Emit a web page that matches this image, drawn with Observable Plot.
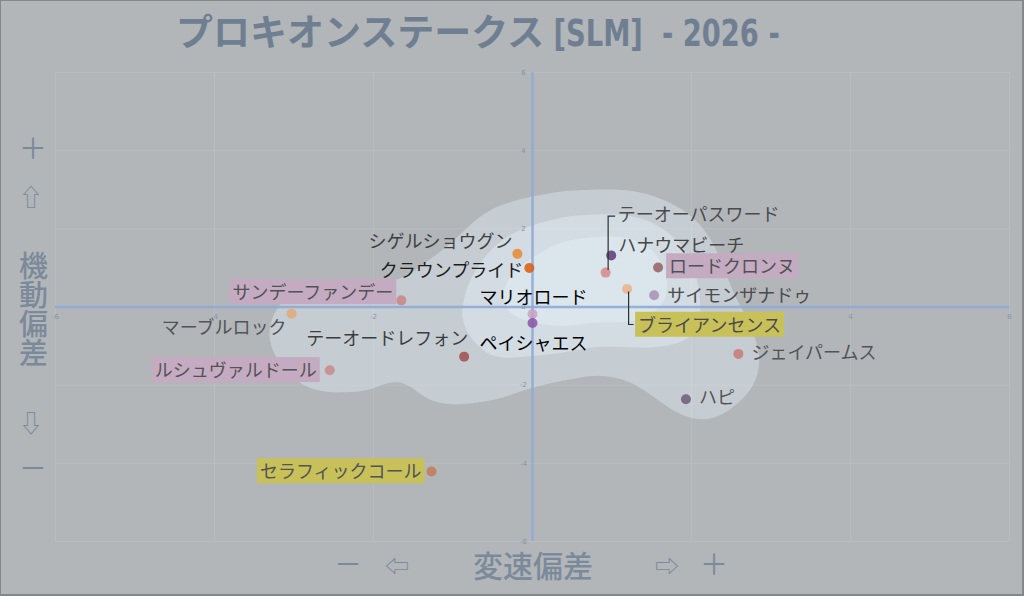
<!DOCTYPE html>
<html>
<head>
<meta charset="utf-8">
<script src="https://cdn.jsdelivr.net/npm/d3@7"></script>
<script src="https://cdn.jsdelivr.net/npm/@observablehq/plot@0.6"></script>
<style>
  html, body { margin: 0; padding: 0; background: #b2b6b9; }
  #wrap { position: relative; width: 1024px; height: 596px; overflow: hidden; background: #b2b6b9; }
  #wrap svg { position: absolute; left: 0; top: 0; }
  #frame { position: absolute; left: 0; top: 0; width: 1024px; height: 596px; box-sizing: border-box; border: 1px solid #85888b; border-right-width: 2px; border-bottom-width: 2px; pointer-events: none; }
  .ov { position: absolute; color: #7b8a9b; font-family: "Noto Sans CJK JP", "Noto Sans", sans-serif; transform: translate(-50%, -50%); white-space: nowrap; line-height: 1; }
  #title { position: absolute; left: 176px; top: 12px; color: #6f7f91; font-weight: 700; white-space: nowrap; line-height: 1; }
  #title .jp { font-family: "Noto Sans CJK JP", sans-serif; font-size: 37px; }
  #title .en { display: inline-block; font-family: "DejaVu Sans Condensed", "DejaVu Sans", sans-serif; font-size: 38px; transform: scaleX(0.8); transform-origin: 0 50%; }
  #vlabel { writing-mode: vertical-rl; text-orientation: upright; font-size: 29px; font-weight: 500; letter-spacing: 0; }
</style>
</head>
<body>
<div id="wrap"></div>
<script>
// ---- data ----
const horses = ["シゲルショウグン", "クラウンプライド", "マリオロード", "ペイシャエス", "テーオーパスワード",
  "ハナウマビーチ", "ロードクロンヌ", "サイモンザナドゥ", "ブライアンセンス", "ジェイパームス", "ハピ",
  "サンデーファンデー", "マーブルロック", "テーオードレフォン", "ルシュヴァルドール", "セラフィックコール"];
const speedDev = [-0.19, -0.04, 0.00, 0.00, 0.92, 0.99, 1.58, 1.53, 1.19, 2.59, 1.93, -1.65, -3.03, -0.86, -2.55, -1.27];
const mobilityDev = [1.36, 1.00, -0.18, -0.41, 0.88, 1.32, 1.01, 0.30, 0.46, -1.20, -2.36, 0.17, -0.17, -1.27, -1.62, -4.21];
const highlightKind = [null, null, null, null, null, null, "pink", null, "yellow", null, null, "pink", null, null, "pink", "yellow"];
const xTicks = [-6, -4, -2, 0, 2, 4, 6];
const yTicks = [-6, -4, -2, 0, 2, 4, 6];

// ---- styles (colours, label offsets in px) ----
const dotColors = ["#e88a32", "#dd5c0a", "#c9a2c6", "#8a55a6", "#d68a8c", "#5c3a78", "#946060", "#a891b3",
  "#eab088", "#c87a78", "#6e5a7c", "#c88482", "#e2a878", "#a04e50", "#c88888", "#c27a55"];
const labelStyle = [
  {anchor: "end", dx: -5, dy: -12, labelColor: "#3f4042"},
  {anchor: "end", dx: -6, dy: 3, labelColor: "#1c1c1c"},
  {anchor: "middle", dx: 1, dy: -16, labelColor: "#000000"},
  {anchor: "middle", dx: 1, dy: 21, labelColor: "#000000"},
  {anchor: "start", dx: 12, dy: -57, labelColor: "#4a4b4d", leader: "up"},
  {anchor: "start", dx: 7, dy: -9, labelColor: "#454648"},
  {anchor: "start", dx: 11, dy: 0, labelColor: "#505154"},
  {anchor: "start", dx: 13, dy: 1, labelColor: "#4a4b4d"},
  {anchor: "start", dx: 11, dy: 37, labelColor: "#4a4b4d", leader: "down"},
  {anchor: "start", dx: 13, dy: -1, labelColor: "#525356"},
  {anchor: "start", dx: 13, dy: -1, labelColor: "#525356"},
  {anchor: "end", dx: -8, dy: -7, labelColor: "#525356"},
  {anchor: "end", dx: -5, dy: 15, labelColor: "#525356"},
  {anchor: "end", dx: 4, dy: -17, labelColor: "#3c3d3f"},
  {anchor: "end", dx: -13, dy: 1, labelColor: "#525356"},
  {anchor: "end", dx: -10, dy: 1, labelColor: "#525356"}
];
const highlightFill = {pink: "#c5abc1", yellow: "#c8c15a"};

const points = horses.map((name, i) => ({
  name, x: speedDev[i], y: mobilityDev[i], color: dotColors[i], hl: highlightKind[i], ...labelStyle[i]
}));

const FONT = "'Noto Sans CJK JP', 'Noto Sans', sans-serif";

const plot = Plot.plot({
  width: 1024,
  height: 596,
  marginLeft: 55,
  marginRight: 15,
  marginTop: 72,
  marginBottom: 55,
  x: {domain: [-6, 6], axis: null},
  y: {domain: [-6, 6], axis: null},
  color: {type: "identity"},
  style: {background: "transparent", overflow: "visible"},
  marks: [
    Plot.ruleX(xTicks, {stroke: "#bcc0c3", strokeWidth: 1, strokeOpacity: 0.7}),
    Plot.ruleY(yTicks, {stroke: "#bcc0c3", strokeWidth: 1, strokeOpacity: 0.7}),
    Plot.density(points, {x: "x", y: "y", bandwidth: 46, thresholds: 4, fill: "#e8f7ff", fillOpacity: 0.36, stroke: "none"}),
    Plot.ruleX([0], {stroke: "#8eaad6", strokeWidth: 2.5, strokeOpacity: 0.9}),
    Plot.ruleY([0], {stroke: "#8eaad6", strokeWidth: 2.5, strokeOpacity: 0.9}),
    Plot.text(xTicks, {x: d => d, y: 0, dy: 10, text: d => String(d), fontSize: 7, fill: "#8794a6", fontFamily: "DejaVu Sans, sans-serif"}),
    Plot.text(yTicks, {x: 0, y: d => d, dx: -9, text: d => String(d), fontSize: 7, fill: "#8794a6", fontFamily: "DejaVu Sans, sans-serif"}),
    Plot.dot(points, {x: "x", y: "y", r: 5, fill: "color", fillOpacity: 0.85, stroke: "none"}),
    ...points.map(p => Plot.text([p], {
      x: "x", y: "y", text: "name", dx: p.dx, dy: p.dy, textAnchor: p.anchor,
      fill: p.labelColor, fontSize: 18, fontFamily: FONT
    }))
  ]
});

const wrap = document.getElementById("wrap");
wrap.appendChild(plot);

// highlight boxes behind selected labels
const svg = d3.select(plot.tagName.toLowerCase() === "svg" ? plot : plot.querySelector("svg"));
const byName = new Map(points.map(p => [p.name, p]));
svg.selectAll("text").each(function() {
  const p = byName.get(this.textContent);
  if (!p || !p.hl) return;
  const b = this.getBBox();
  const r = document.createElementNS("http://www.w3.org/2000/svg", "rect");
  r.setAttribute("x", b.x - 3);
  r.setAttribute("y", b.y + 1);
  r.setAttribute("width", b.width + 6);
  r.setAttribute("height", b.height - 1);
  r.setAttribute("fill", highlightFill[p.hl]);
  r.setAttribute("stroke", "none");
  const t = this.getAttribute("transform");
  if (t) r.setAttribute("transform", t);
  this.parentNode.insertBefore(r, this);
});

// leader lines through the plot's scales
const sx = plot.scale("x"), sy = plot.scale("y");
const fx = sx.apply ? sx.apply : d3.scaleLinear(sx.domain, sx.range);
const fy = sy.apply ? sy.apply : d3.scaleLinear(sy.domain, sy.range);
const leaders = points.filter(p => p.leader);
svg.append("g").selectAll("path").data(leaders).join("path")
  .attr("fill", "none").attr("stroke", "#2e2f31").attr("stroke-width", 1.2)
  .attr("d", p => {
    const X = fx(p.x), Y = fy(p.y);
    return p.leader === "up"
      ? `M${X + 3},${Y - 2}V${Y + p.dy + 1}H${X + p.dx - 2}`
      : `M${X + 2},${Y + 3}V${Y + p.dy - 1}H${X + p.dx - 4}`;
  });

// titles / axis captions
function ov(text, x, y, size, extra) {
  const d = document.createElement("div");
  d.className = "ov";
  d.textContent = text;
  d.style.left = x + "px";
  d.style.top = y + "px";
  d.style.fontSize = size + "px";
  if (extra) Object.assign(d.style, extra);
  wrap.appendChild(d);
  return d;
}
const title = document.createElement("div");
title.id = "title";
title.innerHTML = '<span class="jp">プロキオンステークス</span><span class="en">&nbsp;[SLM]&nbsp;&nbsp;- 2026 -</span>';
wrap.appendChild(title);

ov("＋", 33, 147, 28);
ov("⇧", 31, 196, 24);
const v = ov("機動偏差", 33, 309, 29);
v.id = "vlabel";
ov("⇩", 31, 422, 24);
ov("－", 33, 467, 28);

ov("－", 348, 563, 28);
ov("⇦", 397, 565, 24);
ov("変速偏差", 533, 564, 30, {fontWeight: 500});
ov("⇨", 667, 565, 24);
ov("＋", 714, 563, 28);

const fr = document.createElement("div");
fr.id = "frame";
wrap.appendChild(fr);
</script>
</body>
</html>
